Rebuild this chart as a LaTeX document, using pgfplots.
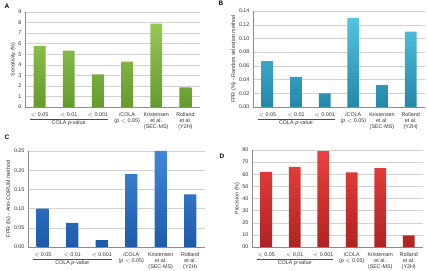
\documentclass[border=0pt]{standalone}
\usepackage{fontspec}
\setmainfont{Liberation Sans}
\usepackage{pgfplots}
\pgfplotsset{compat=1.18}

\definecolor{gtop}{RGB}{150,200,85}
\definecolor{gbot}{RGB}{100,155,45}
\definecolor{ctop}{RGB}{85,195,225}
\definecolor{cbot}{RGB}{35,135,170}
\definecolor{btop}{RGB}{65,135,215}
\definecolor{bbot}{RGB}{30,90,170}
\definecolor{rtop}{RGB}{235,65,60}
\definecolor{rbot}{RGB}{175,35,35}

\newcommand{\lab}{\fontsize{5.4}{5.9}\selectfont}

\pgfplotsset{
  panel/.style={
    scale only axis,
    anchor=south west,
    xmin=-0.5, xmax=5.5, ymin=0,
    axis x line*=bottom, axis y line*=left,
    axis line style={black!45},
    ymajorgrids, grid style={black!18, line width=0.4pt},
    xtick={0,...,5},
    xticklabels={$<$ 0.05, $<$ 0.01, $<$ 0.001,
      \textit{i}COLA\\(\textit{p} $<$ 0.05),
      Kristensen\\et al.\\(SEC-MS),
      Rolland\\et al.\\(Y2H)},
    xtick style={draw=none},
    ytick style={black!45},
    major tick length=1.5pt,
    tick label style={font=\lab, text=black!80},
    xticklabel style={align=center, yshift=-2.5pt},
    ylabel style={font=\lab, text=black!80, yshift=-4pt},
    /pgf/number format/assume math mode=true,
    clip=false,
  },
  bars/.style 2 args={ybar, bar width=0.41, draw=none, top color=#1, bottom color=#2},
}

\newcommand{\colagroup}{%
  \draw[black!70, line width=0.4pt] ([yshift=-12pt]axis cs:-0.32,0) -- ([yshift=-12pt]axis cs:2.35,0);
  \node[font=\lab, text=black!80, anchor=north, inner sep=1pt] at ([yshift=-12.5pt]axis cs:1,0) {COLA \textit{p}-value};
}

\begin{document}
\begin{tikzpicture}
\useasboundingbox (0bp,0bp) rectangle (427bp,271bp);

% A: sensitivity
\begin{axis}[panel, at={(25bp,164bp)}, width=175bp, height=95bp,
  ymax=9, ytick={0,...,9}, ylabel={Sensitivity (\%)}]
\addplot[bars={gtop}{gbot}] coordinates {(0,5.8) (1,5.35) (2,3.1) (3,4.3) (4,7.9) (5,1.85)};
\colagroup
\end{axis}

% B: FPR, random selection
\begin{axis}[panel, at={(253bp,164bp)}, width=172bp, height=96bp,
  ymax=0.14, ytick={0,0.02,...,0.141},
  yticklabel style={/pgf/number format/.cd, fixed, fixed zerofill, precision=2},
  ylabel={FPR (\%) - Random selection method}]
\addplot[bars={ctop}{cbot}] coordinates {(0,0.067) (1,0.044) (2,0.02) (3,0.13) (4,0.032) (5,0.11)};
\colagroup
\end{axis}

% C: FPR, anti-CORUM
\begin{axis}[panel, at={(28bp,24bp)}, width=177bp, height=96bp,
  ymax=0.25, ytick={0,0.05,...,0.251},
  yticklabel style={/pgf/number format/.cd, fixed, fixed zerofill, precision=2},
  ylabel={FPR (\%) - Anti-CORUM method}]
\addplot[bars={btop}{bbot}] coordinates {(0,0.10) (1,0.063) (2,0.018) (3,0.19) (4,0.25) (5,0.137)};
\colagroup
\end{axis}

% D: precision
\begin{axis}[panel, at={(252bp,24bp)}, width=171bp, height=97bp,
  ymax=80, ytick={0,10,...,80},
  yticklabels={00,10,20,30,40,50,60,70,80},
  ylabel={Precision (\%)}]
\addplot[bars={rtop}{rbot}] coordinates {(0,62) (1,66) (2,79) (3,61.5) (4,65) (5,9.5)};
\colagroup
\end{axis}

\node[font=\bfseries\fontsize{6.5}{7}\selectfont, anchor=north west] at (1bp,270bp) {A};
\node[font=\bfseries\fontsize{6.5}{7}\selectfont, anchor=north west] at (215bp,273bp) {B};
\node[font=\bfseries\fontsize{6.5}{7}\selectfont, anchor=north west] at (1bp,140bp) {C};
\node[font=\bfseries\fontsize{6.5}{7}\selectfont, anchor=north west] at (216bp,120bp) {D};
\end{tikzpicture}
\end{document}
